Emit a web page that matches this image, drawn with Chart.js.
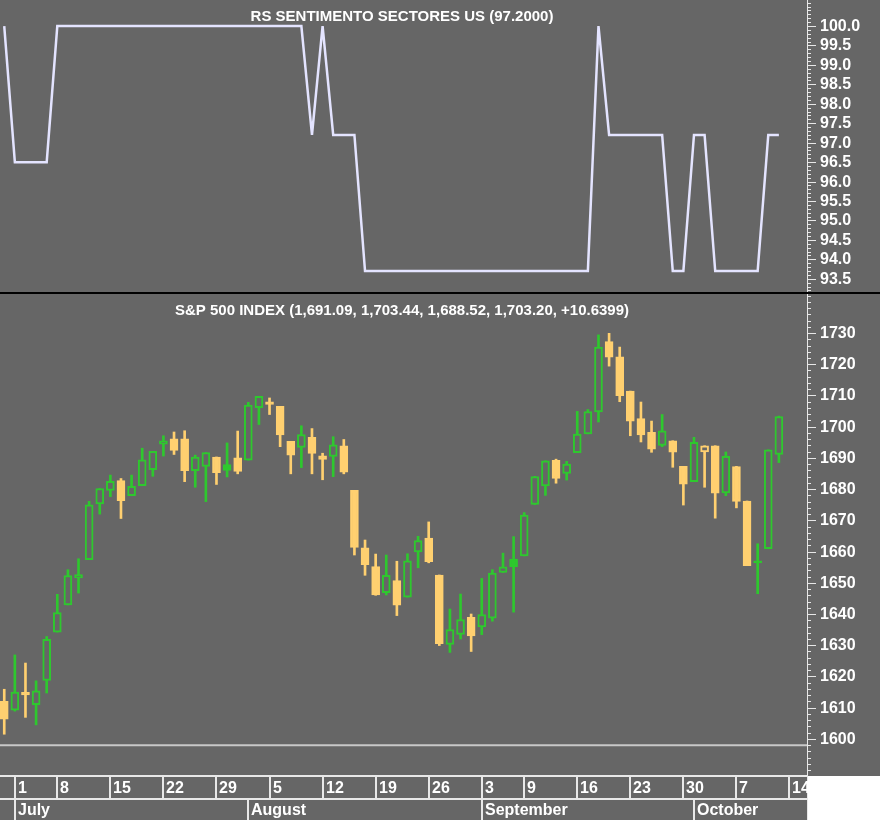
<!DOCTYPE html>
<html><head><meta charset="utf-8">
<script src="https://cdn.jsdelivr.net/npm/chart.js@4"></script>
<style>
html,body{margin:0;padding:0;background:#666;width:880px;height:820px;overflow:hidden}
#top{position:absolute;left:0;top:0}
#bot{position:absolute;left:0;top:294px}
#sep{position:absolute;left:0;top:292px;width:880px;height:2px;background:#000}
</style></head><body>
<canvas id="top" width="880" height="292"></canvas>
<div id="sep"></div>
<canvas id="bot" width="880" height="526"></canvas>
<script>
const dates = ["Jun 28","Jul 1","Jul 2","Jul 3","Jul 5","Jul 8","Jul 9","Jul 10","Jul 11","Jul 12","Jul 15","Jul 16","Jul 17","Jul 18","Jul 19","Jul 22","Jul 23","Jul 24","Jul 25","Jul 26","Jul 29","Jul 30","Jul 31","Aug 1","Aug 2","Aug 5","Aug 6","Aug 7","Aug 8","Aug 9","Aug 12","Aug 13","Aug 14","Aug 15","Aug 16","Aug 19","Aug 20","Aug 21","Aug 22","Aug 23","Aug 26","Aug 27","Aug 28","Aug 29","Aug 30","Sep 3","Sep 4","Sep 5","Sep 6","Sep 9","Sep 10","Sep 11","Sep 12","Sep 13","Sep 16","Sep 17","Sep 18","Sep 19","Sep 20","Sep 23","Sep 24","Sep 25","Sep 26","Sep 27","Sep 30","Oct 1","Oct 2","Oct 3","Oct 4","Oct 7","Oct 8","Oct 9","Oct 10","Oct 11"];
const openP  = [1612,1609.2,1614.9,1611,1618.7,1634.2,1642.9,1651.6,1657.4,1675.3,1679.6,1682.7,1677.9,1681.1,1686.2,1694.4,1696.1,1696.1,1685.9,1687.3,1690.3,1687.9,1690,1689.3,1706.1,1708,1706.5,1695.3,1693.4,1696.6,1690.7,1690.5,1693.9,1679.6,1661.2,1655.2,1646.8,1650.7,1645.4,1659.9,1664.3,1652.5,1630.3,1633.5,1638.9,1635.9,1638.7,1653.3,1657.6,1658.6,1675.1,1681,1689.2,1685,1691.7,1697.7,1704.7,1727.3,1722.4,1711.4,1702.6,1698.2,1694,1695.5,1687.3,1682.4,1691.9,1693.9,1678.8,1687.2,1676.2,1657,1660.9,1691.1];
const highP  = [1615.9,1626.9,1624.3,1618.6,1632.8,1646.3,1654.2,1657.7,1676.1,1680.2,1684.5,1683.4,1684.5,1693.1,1692.1,1697.1,1698.3,1698.7,1690.9,1691.7,1690.3,1694.8,1698.6,1707.8,1709.7,1709.2,1706.5,1695.3,1700.3,1699.4,1691.5,1696.8,1695.9,1679.6,1663.7,1659.2,1658.9,1656.9,1659.3,1664.9,1669.5,1652.5,1641.6,1646.4,1640,1651.4,1654.2,1659.5,1664.8,1672.5,1684.1,1689.1,1689.6,1688.9,1704.9,1705.5,1729.4,1729.9,1725.5,1711.4,1707.9,1701.8,1703.9,1695.5,1687.3,1696.6,1693.9,1693.9,1691.9,1687.3,1676.2,1662.5,1692.6,1703.4];
const lowP   = [1601.5,1608.9,1606.9,1604.5,1614.7,1634.2,1642.9,1646.7,1657.4,1672,1677.6,1670.6,1677.9,1681.1,1684.1,1690.6,1691.1,1682.4,1680.6,1676,1681.5,1683.9,1684.9,1689.3,1700.7,1703.9,1693.6,1684.9,1686.9,1684.9,1683,1684,1684.9,1658.9,1652.4,1646,1646.1,1639.5,1645.4,1654.8,1656.4,1629.9,1627.7,1632,1628,1633.4,1637.7,1653.3,1640.6,1658.6,1675.1,1678,1681.9,1682.9,1691.7,1697.7,1701.5,1719.4,1708,1697.1,1695.1,1691.8,1693.6,1687,1674.9,1682.4,1680.6,1670.7,1677.9,1674,1655.5,1646.5,1660.9,1688.5];
const closeP = [1606.3,1614.96,1614.1,1615.4,1631.9,1640.5,1652.3,1652.6,1675,1680.2,1682.5,1676.3,1680.9,1689.4,1692.1,1695.5,1692.4,1685.9,1690.3,1691.7,1685.3,1686,1685.7,1706.9,1709.7,1707.1,1697.4,1690.9,1697.5,1691.4,1689.5,1694.2,1685.4,1661.3,1655.8,1646.1,1652.4,1642.8,1657,1663.5,1656.8,1630.5,1635,1638.2,1633,1639.8,1653.1,1655.1,1655.2,1671.7,1684,1689.1,1683.4,1688,1697.6,1704.8,1725.5,1722.3,1709.9,1701.8,1697.4,1692.8,1698.7,1691.8,1681.6,1695,1693.9,1678.7,1690.5,1676.1,1655.5,1656.4,1692.6,1703.2];
const prevClose0 = 1613.2;
const rsValues = [100,96.5,96.5,96.5,96.5,100,100,100,100,100,100,100,100,100,100,100,100,100,100,100,100,100,100,100,100,100,100,100,100,97.2,100,97.2,97.2,97.2,93.7,93.7,93.7,93.7,93.7,93.7,93.7,93.7,93.7,93.7,93.7,93.7,93.7,93.7,93.7,93.7,93.7,93.7,93.7,93.7,93.7,93.7,100,97.2,97.2,97.2,97.2,97.2,97.2,93.7,93.7,97.2,97.2,93.7,93.7,93.7,93.7,93.7,97.2,97.2];
const referenceLevel = 1598;
const weekStarts = [[1,"1"],[5,"8"],[10,"15"],[15,"22"],[20,"29"],[25,"5"],[30,"12"],[35,"19"],[40,"26"],[45,"3"],[49,"9"],[54,"16"],[59,"23"],[64,"30"],[69,"7"],[74,"14"]];
const monthStarts = [[1,"July"],[23,"August"],[45,"September"],[65,"October"]];
const priceTicks = [1600,1610,1620,1630,1640,1650,1660,1670,1680,1690,1700,1710,1720,1730];
const rsTicks = [93.5,94.0,94.5,95.0,95.5,96.0,96.5,97.0,97.5,98.0,98.5,99.0,99.5,100.0];

const GREEN='#2ec82e', ORANGE='#ffd070', BG='#666666', AX='#e8e8e8';
const FONT='"Liberation Sans",Arial,sans-serif';
const XMIN=-0.4, XMAX=75.65;

function rightAxis(ticks, minorStep, fmt, title, titleY){
  return {id:'ra', afterDraw(c){
    const ctx=c.ctx, y=c.scales.y, ca=c.chartArea;
    ctx.save();
    ctx.strokeStyle=AX; ctx.lineWidth=1;
    ctx.beginPath(); ctx.moveTo(ca.right+0.5,0); ctx.lineTo(ca.right+0.5,c.height); ctx.stroke();
    for(let v=Math.ceil(y.min/minorStep)*minorStep; v<=y.max; v+=minorStep){
      const p=Math.round(y.getPixelForValue(v))+0.5;
      ctx.beginPath(); ctx.moveTo(ca.right,p); ctx.lineTo(ca.right+4,p); ctx.stroke();
    }
    ctx.fillStyle='#fff'; ctx.font='bold 16px '+FONT; ctx.textBaseline='middle'; ctx.textAlign='left';
    ticks.forEach(v=>{
      const p=Math.round(y.getPixelForValue(v))+0.5;
      ctx.beginPath(); ctx.moveTo(ca.right,p); ctx.lineTo(ca.right+9,p); ctx.stroke();
      ctx.fillText(fmt(v), ca.right+13, p);
    });
    ctx.textAlign='center'; ctx.font='bold 15px '+FONT;
    ctx.fillText(title, 402, titleY);
    ctx.restore();
  }};
}

new Chart(document.getElementById('top'),{
  type:'line',
  data:{datasets:[{data:rsValues.map((v,i)=>({x:i,y:v})),borderColor:'#e4e4ff',borderWidth:2.5,pointRadius:0,tension:0}]},
  options:{animation:false,responsive:false,
    layout:{padding:{left:0,right:73,top:0,bottom:0}},
    plugins:{legend:{display:false},tooltip:{enabled:false}},
    scales:{x:{type:'linear',min:XMIN,max:XMAX,display:false},
            y:{min:93.16,max:100.67,display:false}}},
  plugins:[rightAxis(rsTicks,0.1,v=>v.toFixed(1),'RS SENTIMENTO SECTORES US (97.2000)',17)]
});

const up = closeP.map((c,i)=> c >= (i? closeP[i-1] : prevClose0));
const col = up.map(u=>u?GREEN:ORANGE);
const bodyFill = closeP.map((c,i)=> c<openP[i] ? col[i] : BG);

const xAxisPlugin = {id:'xa', afterDraw(c){
  const ctx=c.ctx, x=c.scales.x, ca=c.chartArea;
  const r1=ca.bottom+4, r2=r1+23, r3=c.height;
  ctx.save();
  ctx.fillStyle='#fff'; ctx.fillRect(ca.right+1, r1, c.width-ca.right, c.height-r1);
  ctx.strokeStyle=AX; ctx.lineWidth=2;
  ctx.beginPath(); ctx.moveTo(0,r1); ctx.lineTo(ca.right,r1); ctx.moveTo(0,r2); ctx.lineTo(ca.right,r2); ctx.stroke();
  ctx.fillStyle='#fff'; ctx.font='bold 16px '+FONT; ctx.textBaseline='middle'; ctx.textAlign='left';
  weekStarts.forEach(([i,t])=>{
    const p=Math.round(x.getPixelForValue(i));
    ctx.beginPath(); ctx.moveTo(p,r1); ctx.lineTo(p,r2); ctx.stroke();
    ctx.fillText(t,p+3,(r1+r2)/2+1);
  });
  monthStarts.forEach(([i,t])=>{
    const p=Math.round(x.getPixelForValue(i));
    ctx.beginPath(); ctx.moveTo(p,r2); ctx.lineTo(p,r3); ctx.stroke();
    ctx.fillText(t,p+3,(r2+r3)/2+1);
  });
  ctx.restore();
}};

new Chart(document.getElementById('bot'),{
  type:'bar',
  data:{datasets:[
    {type:'line',data:[{x:XMIN,y:referenceLevel},{x:XMAX,y:referenceLevel}],borderColor:'#c8c8c8',borderWidth:2,pointRadius:0,order:3},
    {data:highP.map((h,i)=>({x:i,y:[lowP[i],h]})),backgroundColor:col,borderWidth:0,barThickness:2,grouped:false,order:2},
    {data:openP.map((o,i)=>({x:i,y:[o,closeP[i]]})),backgroundColor:bodyFill,borderColor:col,borderWidth:2,borderSkipped:false,barThickness:8,grouped:false,order:1}
  ]},
  options:{animation:false,responsive:false,
    layout:{padding:{left:0,right:73,top:0,bottom:48}},
    plugins:{legend:{display:false},tooltip:{enabled:false}},
    scales:{x:{type:'linear',min:XMIN,max:XMAX,display:false,offset:false},
            y:{min:1589.4,max:1742.5,display:false}}},
  plugins:[rightAxis(priceTicks,2,v=>String(v),'S&P 500 INDEX (1,691.09, 1,703.44, 1,688.52, 1,703.20, +10.6399)',17),xAxisPlugin]
});
</script></body></html>
